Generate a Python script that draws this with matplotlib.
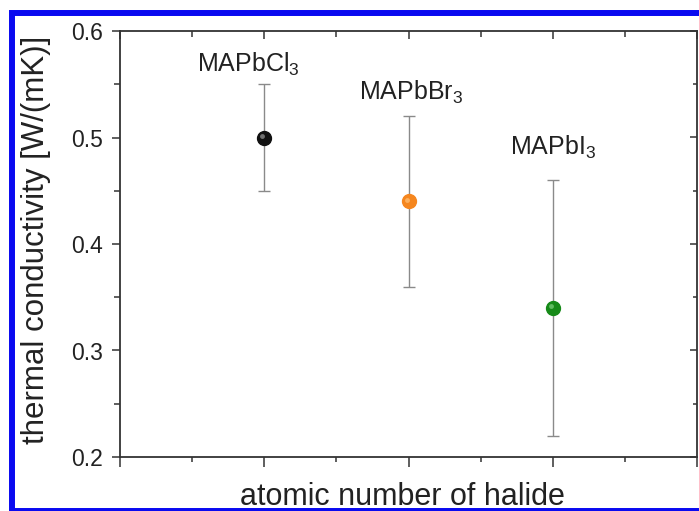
import numpy as np
import matplotlib
matplotlib.use('Agg')
import matplotlib.pyplot as plt
from matplotlib.patches import Rectangle
from matplotlib.ticker import MultipleLocator
import matplotlib.transforms as mtransforms

plt.rcParams['font.family'] = ['Liberation Sans', 'DejaVu Sans']
plt.rcParams['mathtext.default'] = 'regular'

# data
compounds = ['MAPbCl$_3$', 'MAPbBr$_3$', 'MAPbI$_3$']
x_pos = [1, 2, 3]
kappa = [0.50, 0.44, 0.34]
kappa_err = [0.05, 0.08, 0.12]
colors = ['#111111', '#f5861e', '#168a18']
highlight = ['#9a9a9a', '#ffc27a', '#7fd07f']
label_x = [0.89, 2.02, 3.0]
label_y = [0.5615, 0.535, 0.4836]

W, H = 699, 511
fig = plt.figure(figsize=(W / 100, H / 100), dpi=100)
ax = fig.add_axes([120 / W, 54 / H, 577 / W, 426 / H])

txt = '#222222'
spine_c = '#333333'

for xi, yi, ei, c, hc in zip(x_pos, kappa, kappa_err, colors, highlight):
    ax.errorbar(xi, yi, yerr=ei, fmt='none', ecolor='#8a8a8a', elinewidth=1.0,
                capsize=4, capthick=1.0, zorder=2)
    ax.plot(xi, yi, 'o', ms=10, mfc=c, mec=c, zorder=3)
    off = mtransforms.offset_copy(ax.transData, fig=fig, x=-1.3, y=1.3, units='points')
    ax.plot(xi, yi, 'o', ms=3.5, mfc=hc, mec='none', alpha=0.7, transform=off, zorder=4)

for name, lx, ly in zip(compounds, label_x, label_y):
    ax.text(lx, ly, name, ha='center', va='baseline', fontsize=18, color=txt)

ax.set_xlim(0, 4)
ax.set_ylim(0.2, 0.6)
ax.xaxis.set_major_locator(MultipleLocator(1))
ax.xaxis.set_minor_locator(MultipleLocator(0.5))
ax.yaxis.set_major_locator(MultipleLocator(0.1))
ax.yaxis.set_minor_locator(MultipleLocator(0.05))
ax.set_xticklabels([])
ax.set_yticklabels([f'{v:.1f}' for v in ax.get_yticks()])

for s in ax.spines.values():
    s.set_color(spine_c)
    s.set_linewidth(1.3)

ax.tick_params(axis='both', which='both', direction='out', colors=spine_c,
               labelcolor=txt, labelsize=16.5, width=1.1)
ax.tick_params(axis='y', which='major', length=5.5, pad=7)
ax.tick_params(axis='y', which='minor', length=4)
ax.tick_params(axis='x', which='major', length=7)
ax.tick_params(axis='x', which='minor', length=3.5)

# top and right ticks point inwards
top = ax.secondary_xaxis('top')
top.set_xticks([0, 1, 2, 3, 4])
top.set_xticks([0.5, 1.5, 2.5, 3.5], minor=True)
top.set_xticklabels([])
top.tick_params(which='both', direction='in', colors=spine_c, width=1.1)
top.tick_params(which='major', length=6)
top.tick_params(which='minor', length=4)
top.spines['top'].set_visible(False)

right = ax.secondary_yaxis('right')
right.set_yticks(np.arange(0.2, 0.61, 0.1))
right.set_yticks(np.arange(0.25, 0.6, 0.1), minor=True)
right.set_yticklabels([])
right.tick_params(which='both', direction='in', colors=spine_c, width=1.1)
right.tick_params(which='major', length=5)
right.tick_params(which='minor', length=3)
right.spines['right'].set_visible(False)

fig.text(36 / W, 1 - 240 / H, 'thermal conductivity [W/(mK)]', rotation=90,
         ha='center', va='center', fontsize=22.5, color=txt)
fig.text(402.5 / W, 6 / H, 'atomic number of halide', ha='center', va='baseline',
         fontsize=22, color=txt)

# blue frame around the panel
fig.add_artist(Rectangle((12 / W, 0), 1.2, 1 - 13.5 / H, transform=fig.transFigure,
                         fill=False, edgecolor='#0a0af0', linewidth=4.3, clip_on=False))

fig.savefig('out.png', dpi=100)
